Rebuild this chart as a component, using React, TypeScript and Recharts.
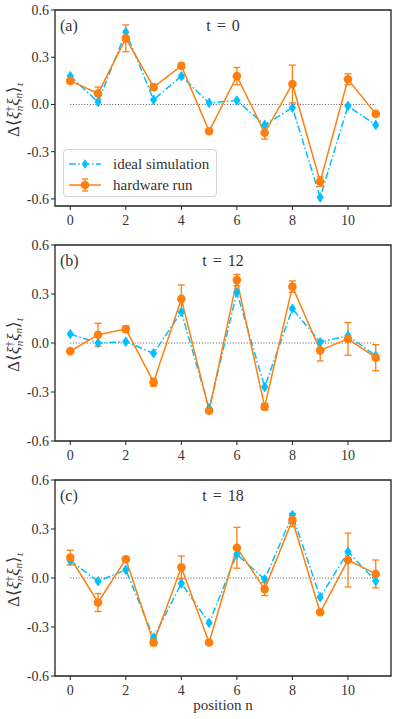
import { LineChart, Line, XAxis, YAxis, ErrorBar, ReferenceLine, ReferenceArea } from 'recharts'

const FONT = "'Liberation Serif', 'Times New Roman', serif"
const BLUE = '#00bfff'
const ORANGE = '#ff7f0e'
const TEXT = '#333'

// positions along the chain
const positions = [0, 1, 2, 3, 4, 5, 6, 7, 8, 9, 10, 11]
const xTicks = [0, 2, 4, 6, 8, 10]
const yTicks = [-0.6, -0.3, 0, 0.3, 0.6]

// t = 0
const idealT0 = [0.18, 0.015, 0.46, 0.03, 0.18, 0.01, 0.025, -0.13, -0.02, -0.59, -0.01, -0.13]
const hwT0 = [0.15, 0.07, 0.42, 0.11, 0.245, -0.17, 0.18, -0.18, 0.13, -0.49, 0.16, -0.06]
const hwErrT0 = [0.012, 0.04, 0.085, 0.012, 0.015, 0.012, 0.055, 0.04, 0.12, 0.03, 0.035, 0.01]

// t = 12
const idealT12 = [0.055, 0.0, 0.008, -0.063, 0.19, -0.4, 0.31, -0.27, 0.21, 0.005, 0.045, -0.078]
const hwT12 = [-0.05, 0.05, 0.085, -0.24, 0.27, -0.415, 0.385, -0.39, 0.345, -0.045, 0.025, -0.09]
const hwErrT12 = [0.008, 0.07, 0.02, 0.025, 0.085, 0.01, 0.035, 0.02, 0.035, 0.065, 0.1, 0.08]

// t = 18
const idealT18 = [0.105, -0.02, 0.05, -0.365, -0.033, -0.275, 0.145, -0.008, 0.385, -0.118, 0.16, -0.018]
const hwT18 = [0.125, -0.15, 0.115, -0.395, 0.065, -0.395, 0.185, -0.068, 0.355, -0.21, 0.11, 0.025]
const hwErrT18 = [0.045, 0.055, 0.012, 0.02, 0.07, 0.01, 0.125, 0.04, 0.04, 0.01, 0.165, 0.085]

const makeRows = (ideal: number[], hw: number[], err: number[]) =>
  positions.map((n, i) => ({ n, ideal: ideal[i], hw: hw[i], err: err[i] }))

const Diamond = (props: any) => {
  const { cx, cy } = props
  if (cx == null || cy == null) return null
  return (
    <polygon
      points={`${cx},${cy - 4.8} ${cx + 3.2},${cy} ${cx},${cy + 4.8} ${cx - 3.2},${cy}`}
      fill={BLUE}
      stroke={BLUE}
      strokeWidth={0.8}
    />
  )
}

const YLabel = (props: any) => {
  const vb = props.viewBox || { y: 10, height: 196 }
  const cx = 19
  const cy = vb.y + vb.height / 2 + 2
  return (
    <text
      transform={`rotate(-90 ${cx} ${cy})`}
      x={cx}
      y={cy}
      textAnchor='middle'
      fill={TEXT}
      fontSize={17}
      fontFamily={FONT}
    >
      <tspan>Δ⟨</tspan>
      <tspan fontStyle='italic'>ξ</tspan>
      <tspan fontSize={11} dy={-6}>†</tspan>
      <tspan fontSize={11} fontStyle='italic' dx={-5} dy={10}>n</tspan>
      <tspan fontStyle='italic' dy={-4}>ξ</tspan>
      <tspan fontSize={11} fontStyle='italic' dy={3}>n</tspan>
      <tspan dy={-3}>⟩</tspan>
      <tspan fontSize={11} fontStyle='italic' dy={4}>t</tspan>
    </text>
  )
}

const XLabel = (props: any) => {
  const vb = props.viewBox || { x: 55, y: 206, width: 336 }
  return (
    <text x={vb.x + vb.width / 2} y={vb.y + 34} textAnchor='middle' fill={TEXT} fontSize={15} fontFamily={FONT}>
      position n
    </text>
  )
}

const LegendBox = () => (
  <div
    style={{
      position: 'absolute',
      left: 63,
      top: 149,
      width: 154,
      height: 48,
      border: '1px solid #d4d4d4',
      borderRadius: 4,
      background: 'rgba(255,255,255,0.85)',
      boxSizing: 'border-box',
      fontFamily: FONT,
      fontSize: 15,
      color: TEXT,
    }}
  >
    <svg width={40} height={48} style={{ position: 'absolute', left: 0, top: 0 }}>
      <line x1={5} y1={14} x2={37} y2={14} stroke={BLUE} strokeWidth={1.5} strokeDasharray='7 2.5 1.5 2.5' />
      <polygon points='21,9.2 24.2,14 21,18.8 17.8,14' fill={BLUE} />
      <line x1={5} y1={35} x2={37} y2={35} stroke={ORANGE} strokeWidth={1.5} />
      <line x1={21} y1={29} x2={21} y2={41} stroke={ORANGE} strokeWidth={1.3} />
      <line x1={18} y1={29} x2={24} y2={29} stroke={ORANGE} strokeWidth={1.3} />
      <line x1={18} y1={41} x2={24} y2={41} stroke={ORANGE} strokeWidth={1.3} />
      <circle cx={21} cy={35} r={4.3} fill={ORANGE} />
    </svg>
    <div style={{ position: 'absolute', left: 49, top: 5, lineHeight: '18px', whiteSpace: 'nowrap' }}>ideal simulation</div>
    <div style={{ position: 'absolute', left: 49, top: 26, lineHeight: '18px', whiteSpace: 'nowrap' }}>hardware run</div>
  </div>
)

type PanelProps = {
  rows: any[]
  tag: string
  title: string
  yMin: number
  top: number
  height: number
  xAxisHeight: number
  showXLabel?: boolean
  showLegend?: boolean
}

const Panel = ({ rows, tag, title, yMin, top, height, xAxisHeight, showXLabel, showLegend }: PanelProps) => (
  <div style={{ position: 'absolute', left: 0, top, width: 395, height }}>
    <LineChart width={395} height={height} data={rows} margin={{ top: 10, right: 4, left: 0, bottom: 0 }}>
      <XAxis
        type='number'
        dataKey='n'
        domain={[-0.55, 11.55]}
        ticks={xTicks}
        axisLine={false}
        tickSize={4}
        tickMargin={5}
        height={xAxisHeight}
        tickLine={{ stroke: '#222', strokeWidth: 1 }}
        tick={{ fill: TEXT, fontSize: 14, fontFamily: FONT }}
        label={showXLabel ? { content: XLabel } : undefined}
      />
      <YAxis
        type='number'
        domain={[yMin, 0.6]}
        ticks={yTicks}
        width={55}
        axisLine={false}
        tickSize={4}
        tickMargin={2}
        tickLine={{ stroke: '#222', strokeWidth: 1 }}
        tick={{ fill: TEXT, fontSize: 14, fontFamily: FONT }}
        tickFormatter={(v: number) => v.toFixed(1)}
        label={{ content: YLabel }}
      />
      <ReferenceLine
        segment={[
          { x: 0, y: 0 },
          { x: 11, y: 0 },
        ]}
        stroke='#555'
        strokeWidth={1}
        strokeDasharray='1 1.8'
      />
      <ReferenceArea x1={-0.55} x2={11.55} y1={yMin} y2={0.6} fill='none' stroke='#222' strokeWidth={1.3} />
      <Line
        dataKey='ideal'
        stroke={BLUE}
        strokeWidth={1.5}
        strokeDasharray='7 2.5 1.5 2.5'
        dot={<Diamond />}
        activeDot={false}
        isAnimationActive={false}
      />
      <Line
        dataKey='hw'
        stroke={ORANGE}
        strokeWidth={1.5}
        dot={{ r: 4.3, fill: ORANGE, stroke: ORANGE, strokeWidth: 0 }}
        activeDot={false}
        isAnimationActive={false}
      >
        <ErrorBar dataKey='err' direction='y' width={3.5} stroke={ORANGE} strokeWidth={1.3} />
      </Line>
    </LineChart>
    <div style={{ position: 'absolute', left: 60, top: 17, fontFamily: FONT, fontSize: 16, color: TEXT, lineHeight: '18px' }}>
      {tag}
    </div>
    <div
      style={{
        position: 'absolute',
        left: 55,
        width: 336,
        top: 17,
        textAlign: 'center',
        fontFamily: FONT,
        fontSize: 16,
        color: TEXT,
        lineHeight: '18px',
        wordSpacing: 2,
      }}
    >
      {title}
    </div>
    {showLegend && <LegendBox />}
  </div>
)

export default function App() {
  return (
    <div style={{ position: 'absolute', left: 0, top: 0, width: 395, height: 719, background: '#fff' }}>
      <Panel rows={makeRows(idealT0, hwT0, hwErrT0)} tag='(a)' title='t = 0' yMin={-0.645} top={0} height={235} xAxisHeight={29} showLegend />
      <Panel rows={makeRows(idealT12, hwT12, hwErrT12)} tag='(b)' title='t = 12' yMin={-0.6} top={235} height={235} xAxisHeight={29} />
      <Panel rows={makeRows(idealT18, hwT18, hwErrT18)} tag='(c)' title='t = 18' yMin={-0.6} top={470} height={249} xAxisHeight={43} showXLabel />
    </div>
  )
}
